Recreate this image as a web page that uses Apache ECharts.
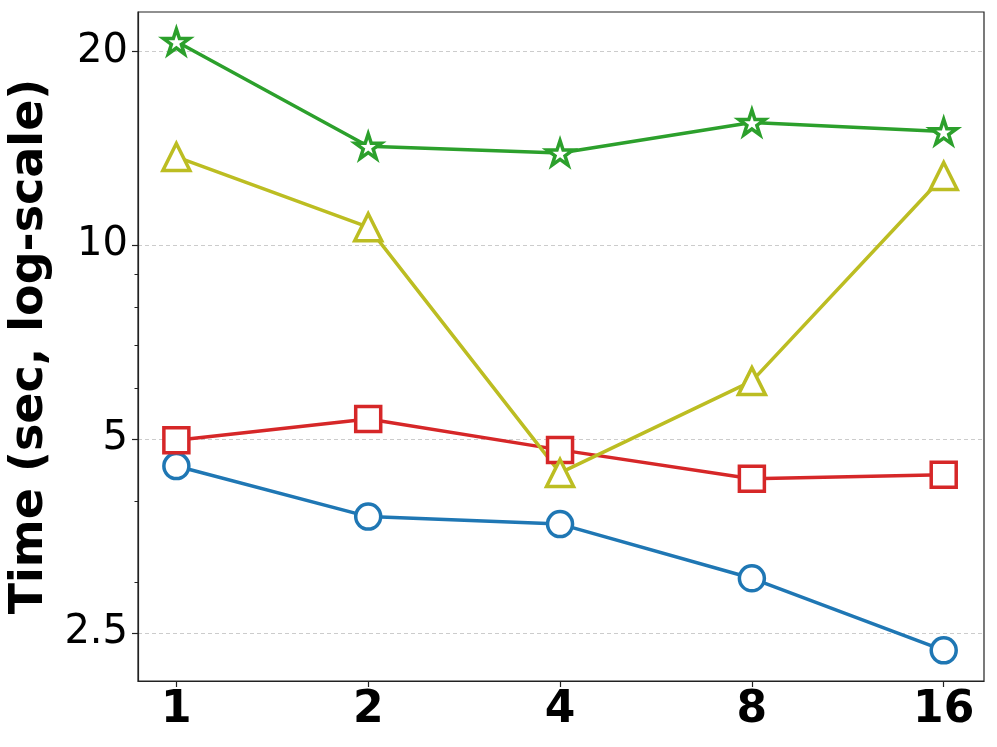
<!DOCTYPE html>
<html>
<head>
<meta charset="utf-8">
<script src="https://cdn.jsdelivr.net/npm/echarts@6/dist/echarts.min.js"></script>
<style>
  html, body { margin: 0; padding: 0; background: #fff; }
  #chart { width: 997px; height: 747px; }
</style>
</head>
<body>
<div id="chart"></div>
<script>
// threads on x, time in seconds on y (both plotted on log scales)
const threads = [1, 2, 4, 8, 16]
const blueTimes = [4.54, 3.79, 3.69, 3.04, 2.35]
const redTimes = [4.98, 5.37, 4.81, 4.34, 4.40]
const oliveTimes = [13.7, 10.66, 4.43, 6.15, 12.8]
const greenTimes = [20.7, 14.24, 13.9, 15.5, 15.0]

const yMajorTicks = [2.5, 5, 10, 20]
const yMinorTicks = [3, 4, 6, 7, 8, 9]

const log2 = v => Math.log(v) / Math.LN2
const font = 'DejaVu Sans'

// five point star like matplotlib '*'
const starPath = (() => {
  const pts = []
  for (let i = 0; i < 10; i++) {
    const r = i % 2 === 0 ? 1 : 0.382
    const a = -Math.PI / 2 + i * Math.PI / 5
    pts.push((r * Math.cos(a)).toFixed(4) + ' ' + (r * Math.sin(a)).toFixed(4))
  }
  return 'path://M' + pts.join(' L') + ' Z'
})()

const makeSeries = (name, values, color, symbol, size) => ({
  name: name,
  type: 'line',
  data: threads.map((t, i) => [log2(t), log2(values[i])]),
  symbol: symbol,
  symbolSize: size,
  symbolKeepAspect: true,
  showAllSymbol: true,
  lineStyle: { color: color, width: 3.5 },
  itemStyle: { color: '#fff', borderColor: color, borderWidth: 3.5, opacity: 1 },
  emphasis: { disabled: true },
  animation: false
})

const chart = echarts.init(document.getElementById('chart'))

const option = {
  animation: false,
  grid: {
    left: 138, top: 12, width: 846, height: 669,
    show: true, borderColor: '#222', borderWidth: 1.2,
    containLabel: false,
    outerBoundsMode: 'none'
  },
  xAxis: {
    type: 'value',
    min: -0.2,
    max: 4.21,
    axisLine: { show: true, onZero: false, lineStyle: { color: '#222', width: 1.2 } },
    axisTick: { show: true, length: 6, lineStyle: { color: '#222', width: 1.2 },
      customValues: threads.map(log2) },
    axisLabel: {
      customValues: threads.map(log2),
      formatter: v => String(Math.round(Math.pow(2, v))),
      fontFamily: font, fontWeight: 'bold', fontSize: 44, color: '#000', margin: 8
    },
    splitLine: { show: false }
  },
  yAxis: [
    {
      type: 'value',
      position: 'left',
      min: log2(2.106),
      max: log2(23.0),
      name: 'Time (sec, log-scale)',
      nameLocation: 'middle',
      nameRotate: 90,
      nameGap: 81,
      nameTextStyle: { fontFamily: font, fontWeight: 'bold', fontSize: 46, color: '#000' },
      axisLine: { show: true, onZero: false, lineStyle: { color: '#222', width: 1.2 } },
      axisTick: { show: true, length: 6, lineStyle: { color: '#222', width: 1.2 },
        customValues: yMajorTicks.map(log2) },
      axisLabel: {
        customValues: yMajorTicks.map(log2),
        formatter: v => String(parseFloat(Math.pow(2, v).toFixed(2))),
        fontFamily: font, fontSize: 40, color: '#000', margin: 10
      },
      splitLine: { show: true, lineStyle: { color: '#cccccc', width: 1, type: [4, 3] } }
    },
    {
      type: 'value',
      position: 'left',
      min: log2(2.106),
      max: log2(23.0),
      axisLine: { show: false, onZero: false },
      axisTick: { show: true, length: 3.5, lineStyle: { color: '#222', width: 1 },
        customValues: yMinorTicks.map(log2) },
      axisLabel: { show: false },
      splitLine: { show: false }
    }
  ],
  series: [
    makeSeries('blue', blueTimes, '#1f77b4', 'circle', 25),
    makeSeries('red', redTimes, '#d62728', 'rect', 25),
    makeSeries('olive', oliveTimes, '#bcbd22', 'triangle', 27),
    makeSeries('green', greenTimes, '#2ca02c', starPath, 26)
  ]
}

chart.setOption(option)
</script>
</body>
</html>
